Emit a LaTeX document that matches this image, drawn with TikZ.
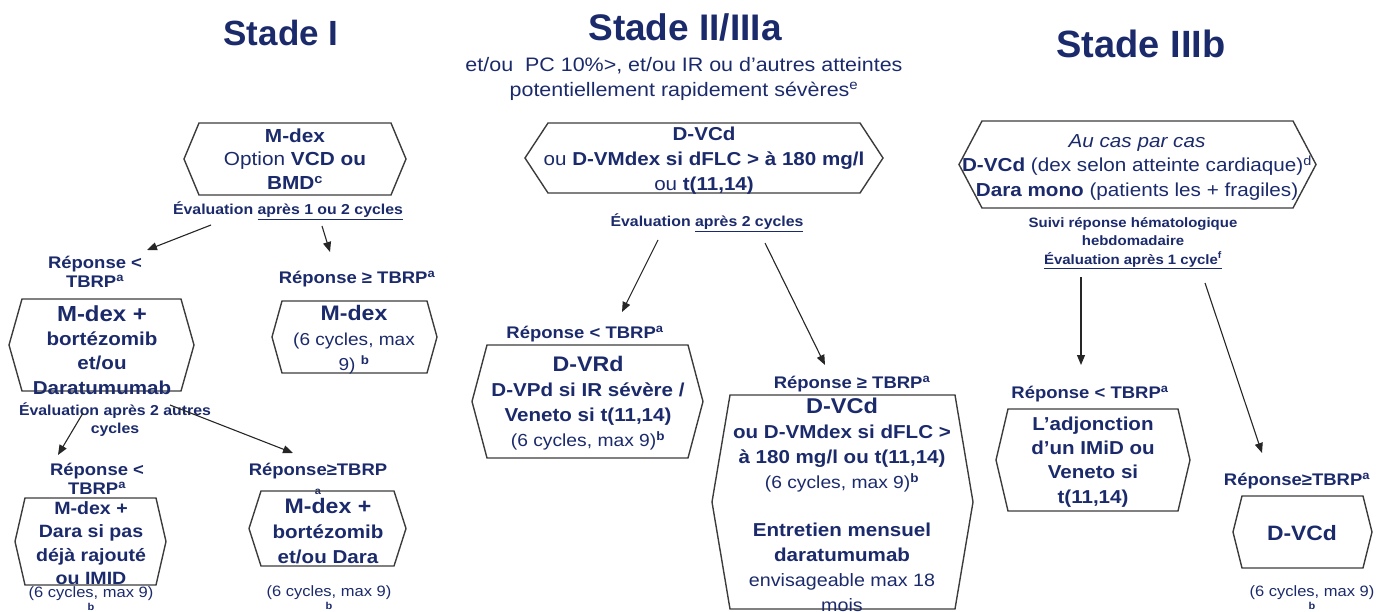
\documentclass[tikz,border=0pt]{standalone}
\usepackage{fontspec}
\setmainfont{Liberation Sans}[FakeStretch=1.1]
\newfontfamily\titlefont{Liberation Sans}
\usetikzlibrary{arrows.meta}
\definecolor{navy}{HTML}{1B2A6B}
\definecolor{hexgray}{HTML}{3C3C3C}
\newcommand\myfs[2]{\fontsize{#1}{#2}\selectfont}
\newcommand\hexbox[5]{%
  \draw[hexline] (#1,{(#3+#4)/2}) -- ({#1+#5},#3) -- ({#2-#5},#3) -- (#2,{(#3+#4)/2}) -- ({#2-#5},#4) -- ({#1+#5},#4) -- cycle;}
\begin{document}
\begin{tikzpicture}[x=1pt,y=-1pt,
  every node/.style={text=navy, inner sep=0pt, align=center},
  title/.style={font=\titlefont\bfseries\myfs{#1}{40}},
  evl/.style={font=\bfseries\myfs{14.4}{18}},
  rep/.style={font=\bfseries\myfs{16.8}{19}},
  body/.style={font=\bfseries\myfs{18.7}{#1}},
  cyc/.style={font=\myfs{15}{13}},
  hexline/.style={draw=hexgray, line width=1.4pt, line join=miter},
  arr/.style={draw=black!85, line width=1.1pt, -{Triangle[length=10pt,width=8pt]}}
]
\useasboundingbox (0,0) rectangle (1392,612);

% ---------------- Stade I ----------------
\node[title=35] (t1) at (281,33) {Stade I};
\hexbox{184}{406}{123}{195}{15}
\node[font=\myfs{18.9}{23.5}] (h1) at (295,159) {\textbf{M-dex}\\Option \textbf{VCD ou}\\\textbf{BMD\textsuperscript{c}}};
\node[evl] (e1) at (288,211) {Évaluation \underline{après 1 ou 2 cycles}};
\coordinate (a1s) at (211,225);
\coordinate (a1e) at (147,250);
\coordinate (a2s) at (322,226);
\coordinate (a2e) at (330,252);
\draw[arr] (a1s) -- (a1e);
\draw[arr] (a2s) -- (a2e);
\node[rep] (r1a) at (95,272) {Réponse <\\TBRP\textsuperscript{a}};
\node[rep] (r1b) at (357,279) {Réponse ≥ TBRP\textsuperscript{a}};

\hexbox{9}{194}{299}{391}{13}
\node[body=24.3] (h2) at (102,350) {{\myfs{21.8}{24.3}M-dex +}\\bortézomib\\et/ou\\Daratumumab};
\hexbox{272}{437}{301}{373}{10}
\node[font=\myfs{17.3}{25}] (h3) at (354,340) {{\bfseries\myfs{21}{25}M-dex}\\(6 cycles, max\\9) \textsuperscript{\bfseries b}};

\node[evl] (e2) at (115,420) {Évaluation après 2 autres\\cycles};
\coordinate (a3s) at (83,413);
\coordinate (a3e) at (58,455);
\coordinate (a4s) at (170,405);
\coordinate (a4e) at (293,453);
\draw[arr] (a3s) -- (a3e);
\draw[arr] (a4s) -- (a4e);

\node[rep] (r1c) at (97,479) {Réponse <\\TBRP\textsuperscript{a}};
\hexbox{15}{166}{498}{585}{10}
\node[font=\bfseries\myfs{17.8}{23.3}] (h4) at (91,543) {M-dex +\\Dara si pas\\déjà rajouté\\ou IMID};
\node[cyc] (c1) at (91,599) {(6 cycles, max 9)\\{\bfseries\myfs{10}{13}b}};

\node[rep] (r1d) at (318,479) {Réponse≥TBRP\\{\myfs{10}{13}a}};
\hexbox{249}{406}{491}{566}{12}
\node[body=25] (h5) at (328,531) {{\myfs{21}{25}M-dex +}\\bortézomib\\et/ou Dara};
\node[cyc] (c2) at (329,598) {(6 cycles, max 9)\\{\bfseries\myfs{10}{13}b}};

% ---------------- Stade II/IIIa ----------------
\node[title=37] (t2) at (685,27) {Stade II/IIIa};
\node[font=\myfs{19.5}{25}] (s2) at (684,79) {et/ou\ \ PC 10\%>, et/ou IR ou d’autres atteintes\\potentiellement rapidement sévères\textsuperscript{e}};
\hexbox{525}{883}{123}{193}{23}
\node[body=25] (h6) at (704,161) {D-VCd\\{\mdseries ou} D-VMdex si dFLC > à 180 mg/l\\{\mdseries ou} t(11,14)};
\node[evl] (e3) at (707,223) {Évaluation \underline{après 2 cycles}};
\coordinate (a5s) at (658,240);
\coordinate (a5e) at (622,312);
\coordinate (a6s) at (765,243);
\coordinate (a6e) at (825,365);
\draw[arr] (a5s) -- (a5e);
\draw[arr] (a6s) -- (a6e);

\node[rep] (r2a) at (585,334) {Réponse < TBRP\textsuperscript{a}};
\hexbox{472}{703}{345}{458}{15}
\node[body=25] (h7) at (588,403) {{\myfs{21.1}{25}D-VRd}\\D-VPd si IR sévère /\\Veneto si t(11,14)\\{\mdseries\myfs{17.5}{25}(6 cycles, max 9)\textsuperscript{\bfseries b}}};

\node[rep] (r2b) at (852,384) {Réponse ≥ TBRP\textsuperscript{a}};
\hexbox{712}{973}{395}{609}{18}
\node[body=25] (h8) at (842,505) {{\myfs{21.4}{25}D-VCd}\\ou D-VMdex si dFLC >\\à 180 mg/l ou t(11,14)\\{\mdseries\myfs{17.5}{25}(6 cycles, max 9)\textsuperscript{\bfseries b}}\\[23pt]Entretien mensuel\\daratumumab\\{\mdseries\myfs{17.9}{25}envisageable max 18}\\{\mdseries\myfs{17.9}{25}mois}};

% ---------------- Stade IIIb ----------------
\node[title=38] (t3) at (1141,44) {Stade IIIb};
\hexbox{959}{1316}{121}{208}{23}
\node[font=\myfs{18.8}{24.5}] (h9) at (1137,167) {\textit{Au cas par cas}\\\textbf{D-VCd} (dex selon atteinte cardiaque)\textsuperscript{d}\\\textbf{Dara mono} (patients les + fragiles)};
\node[font=\bfseries\myfs{13.6}{18.5}] (e4) at (1133,243) {Suivi réponse hématologique\\hebdomadaire\\\underline{Évaluation après 1 cycle\textsuperscript{f}}};
\coordinate (a7s) at (1081,277);
\coordinate (a7e) at (1081,365);
\coordinate (a8s) at (1205,283);
\coordinate (a8e) at (1262,453);
\draw[arr] (a7s) -- (a7e);
\draw[arr] (a8s) -- (a8e);

\node[rep] (r3a) at (1090,394) {Réponse < TBRP\textsuperscript{a}};
\hexbox{996}{1190}{409}{511}{12}
\node[body=24.3] (h10) at (1093,462) {L’adjonction\\d’un IMiD ou\\Veneto si\\t(11,14)};

\node[rep] (r3b) at (1297,481) {Réponse≥TBRP\textsuperscript{a}};
\hexbox{1233}{1372}{496}{568}{9}
\node[font=\bfseries\myfs{20.8}{25}] (h11) at (1302,533) {D-VCd};
\node[cyc] (c3) at (1312,598) {(6 cycles, max 9)\\{\bfseries\myfs{10}{13}b}};
\end{tikzpicture}
\end{document}
